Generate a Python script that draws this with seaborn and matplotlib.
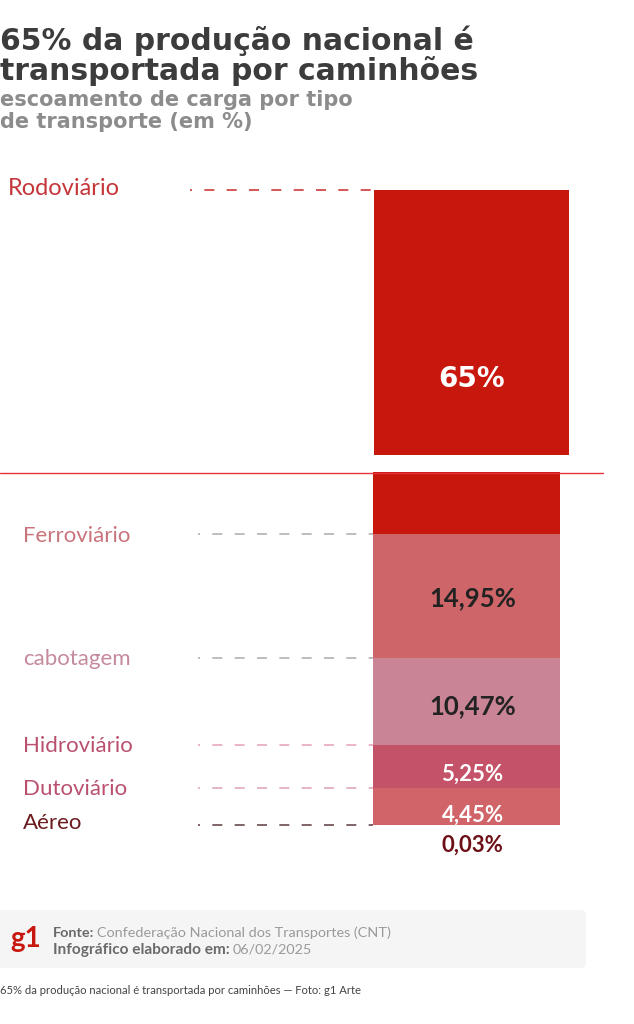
"""g1 infographic: cargo share by transport mode, with a broken stacked bar."""

import matplotlib.pyplot as plt
import seaborn as sns
from matplotlib.patches import FancyBboxPatch

MODES = ["Aéreo", "Dutoviário", "Hidroviário", "cabotagem", "Ferroviário", "Rodoviário"]
SHARES = [0.03, 4.45, 5.25, 10.47, 14.95, 65]
VALUE_LABELS = ["0,03%", "4,45%", "5,25%", "10,47%", "14,95%", "65%"]
BAR_COLORS = ["#7a1015", "#d06468", "#c45268", "#c98595", "#ce6669", "#c8170d"]
NAME_COLORS = ["#6b1a1e", "#b9506e", "#b9506e", "#c58a9b", "#c9747c", "#c4363a"]
DASH_COLORS = ["#6b4a4e", "#e0a8b8", "#e8a8bc", "#b5b0b2", "#b5b0b2", "#d0393a"]
VALUE_COLORS = ["#6d1015", "white", "white", "#222222", "#222222", "white"]

W, H = 634, 1024
FONT = "Lato"
WIDE = "DejaVu Sans"

sns.set_theme(style="white")
plt.rcParams["font.family"] = [FONT, "DejaVu Sans"]


def add_axes_px(fig, left, top, right, bottom):
    return fig.add_axes([left / W, 1 - bottom / H, (right - left) / W, (bottom - top) / H])


def text_px(fig, x, y, s, **kw):
    kw.setdefault("va", "center")
    return fig.text(x / W, 1 - y / H, s, **kw)


fig = plt.figure(figsize=(W / 100, H / 100), dpi=100, facecolor="white")

# same scale on both panels (about 8.27 px per point), the break hides 35-68
ax_low = add_axes_px(fig, 373, 472, 560, 825)
ax_top = add_axes_px(fig, 374, 190, 569, 455)

total = sum(SHARES)
base = 0
tops = []
for share, color in zip(SHARES, BAR_COLORS):
    for ax in (ax_low, ax_top):
        sns.barplot(x=["carga"], y=[share], bottom=base, color=color, saturation=1,
                    width=1, linewidth=0, ax=ax)
        ax.set_xlim(-0.5, 0.5)
    base += share
    tops.append(base)

ax_low.set_ylim(0, 42.7)
ax_top.set_ylim(68, total)
ax_low.axis("off")
ax_top.axis("off")

# leader lines and names, from each segment's top edge
for i, mode in enumerate(MODES):
    is_top = mode == "Rodoviário"
    ax = ax_top if is_top else ax_low
    y = total if is_top else tops[i]
    start = -0.944 if is_top else -0.936
    ax.plot([start, 0], [y, y], transform=ax.get_yaxis_transform(), clip_on=False,
            color=DASH_COLORS[i], lw=1.2, ls=(4.8, (6, 7.4)))
    name_x = -366 if is_top else -350
    name_dy = 1 if is_top else (1 if mode == "Aéreo" else -1)
    ax.annotate(mode, xy=(0, y), xycoords=ax.get_yaxis_transform(),
                xytext=(name_x * 0.72, name_dy), textcoords="offset points",
                ha="left", va="center", fontsize=17 if is_top else 16, color=NAME_COLORS[i],
                annotation_clip=False)

# value labels
offsets_px = [-20, -9, -8, -5, -2, 0]
for i, label in enumerate(VALUE_LABELS):
    if MODES[i] == "Rodoviário":
        ax_top.text(0.5, 0.285, label, transform=ax_top.transAxes, ha="center", va="center",
                    fontsize=20, color=VALUE_COLORS[i], fontweight="bold", family=WIDE)
        continue
    mid = tops[i] - SHARES[i] / 2
    ax_low.annotate(label, xy=(0, mid), xycoords=ax_low.get_yaxis_transform(),
                    xytext=(94 * 0.72 + 4, offsets_px[i] * 0.72),
                    textcoords="offset points", ha="center", va="center",
                    fontsize=18.5 if SHARES[i] > 10 else 16, color=VALUE_COLORS[i],
                    fontweight="bold", annotation_clip=False)

# horizontal break line
fig.add_artist(plt.Line2D([0, 603 / W], [1 - 472.5 / H] * 2, color="#e8323c", lw=1))

# heading
text_px(fig, 0, 41, "65% da produção nacional é", fontsize=21.5, fontweight="bold",
        color="#3c3c3c", family=WIDE)
text_px(fig, 0, 71, "transportada por caminhões", fontsize=21.5, fontweight="bold",
        color="#3c3c3c", family=WIDE)
text_px(fig, 0, 100, "escoamento de carga por tipo", fontsize=15, fontweight="bold",
        color="#8c8c8c", family=WIDE)
text_px(fig, 0, 122, "de transporte (em %)", fontsize=15, fontweight="bold",
        color="#8c8c8c", family=WIDE)

# footer
fig.add_artist(FancyBboxPatch((-10 / W, 1 - 968 / H), 596 / W, 58 / H,
                              boxstyle="round,pad=0,rounding_size=0.008",
                              transform=fig.transFigure, fc="#f5f5f5", ec="none",
                              mutation_aspect=W / H))
text_px(fig, 10, 939, "g1", fontsize=20, fontweight="bold", color="#c8170d")
text_px(fig, 53, 933, "Fonte:", fontsize=10.4, fontweight="bold", color="#6a6a6a")
text_px(fig, 97, 933, "Confederação Nacional dos Transportes (CNT)", fontsize=10.4, color="#9a9a9a")
text_px(fig, 53, 950, "Infográfico elaborado em:", fontsize=11.1, fontweight="bold", color="#6a6a6a")
text_px(fig, 233, 950, "06/02/2025", fontsize=10.4, color="#9a9a9a")
text_px(fig, 0, 990, "65% da produção nacional é transportada por caminhões — Foto: g1 Arte",
        fontsize=8.1, color="#444444")

fig.savefig("out.png", dpi=100)
